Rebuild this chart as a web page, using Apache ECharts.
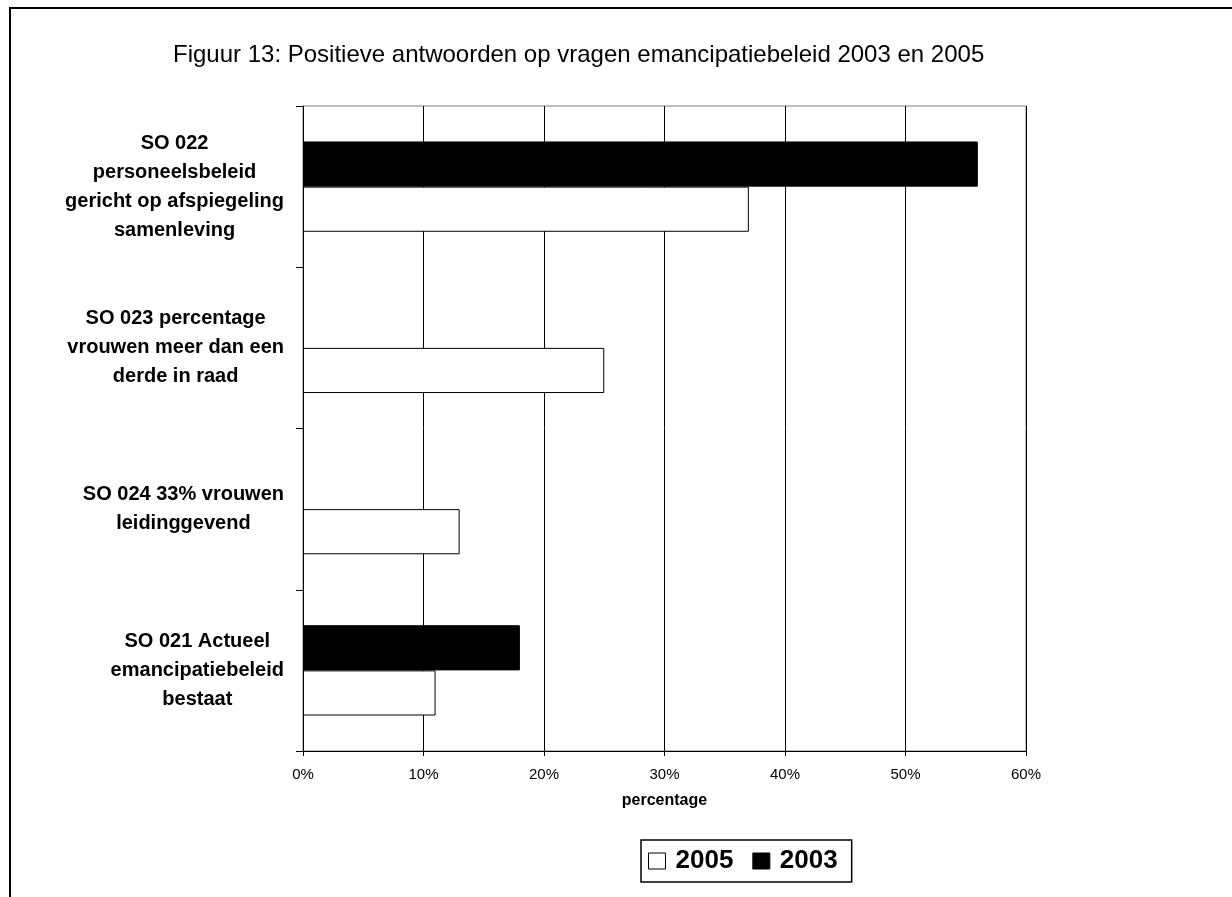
<!DOCTYPE html>
<html>
<head>
<meta charset="utf-8">
<script src="https://cdn.jsdelivr.net/npm/echarts@6/dist/echarts.min.js"></script>
<style>
html,body{margin:0;padding:0;background:#fff;}
#chart{width:1232px;height:897px;}
</style>
</head>
<body>
<div id="chart"></div>
<script>
const titleText = 'Figuur 13: Positieve antwoorden op vragen emancipatiebeleid 2003 en 2005';
const categories = [
  'SO 021 Actueel\nemancipatiebeleid\nbestaat',
  'SO 024 33% vrouwen\nleidinggevend',
  'SO 023 percentage\nvrouwen meer dan een\nderde in raad',
  'SO 022\npersoneelsbeleid\ngericht op afspiegeling\nsamenleving'
];
const values2005 = [11, 13, 25, 37];
const values2003 = [18, null, null, 56];
const seriesNames = ['2005', '2003'];
const xTicks = { min: 0, max: 60, interval: 10 };
const axisName = 'percentage';

const FONT = 'Liberation Sans, Arial, sans-serif';
const chart = echarts.init(document.getElementById('chart'), null, { renderer: 'canvas' });

chart.setOption({
  backgroundColor: '#fff',
  animation: false,
  title: {
    text: titleText,
    left: 168,
    top: 38,
    textStyle: { fontFamily: FONT, fontSize: 24, fontWeight: 'normal', color: '#000' }
  },
  graphic: [{
    type: 'rect',
    shape: { x: 10, y: 8, width: 1400, height: 1200 },
    style: { fill: null, stroke: '#000', lineWidth: 2 },
    silent: true,
    z: -1
  }],
  legend: {
    left: 641,
    top: 840,
    orient: 'horizontal',
    padding: [8, 14, 8, 7],
    itemGap: 19,
    itemWidth: 17,
    itemHeight: 16,
    borderColor: '#000',
    borderWidth: 1.5,
    backgroundColor: '#fff',
    data: [
      { name: seriesNames[0], icon: 'rect', itemStyle: { color: '#fff', borderColor: '#000', borderWidth: 1 } },
      { name: seriesNames[1], icon: 'rect', itemStyle: { color: '#000', borderColor: '#000', borderWidth: 1 } }
    ],
    textStyle: { fontFamily: FONT, fontSize: 26, fontWeight: 'bold', color: '#000', padding: [0, 0, 0, 5] }
  },
  grid: {
    left: 303, right: 206, top: 106, bottom: 146,
    show: true, borderColor: '#808080', borderWidth: 1, backgroundColor: '#fff'
  },
  xAxis: {
    type: 'value',
    min: xTicks.min, max: xTicks.max, interval: xTicks.interval,
    name: axisName,
    nameLocation: 'middle',
    nameGap: 42,
    nameTextStyle: { fontFamily: FONT, fontSize: 16, fontWeight: 'bold', color: '#000' },
    axisLine: { show: true, lineStyle: { color: '#000', width: 1 } },
    axisTick: { show: true, length: 5, lineStyle: { color: '#000' } },
    axisLabel: { formatter: '{value}%', fontFamily: FONT, fontSize: 15, color: '#000', margin: 16 },
    splitLine: { show: true, lineStyle: { color: '#000', width: 1 } }
  },
  yAxis: {
    type: 'category',
    data: categories,
    axisLine: { show: true, onZero: false, lineStyle: { color: '#000', width: 1 } },
    axisTick: { show: true, length: 7, alignWithLabel: false, lineStyle: { color: '#000' } },
    axisLabel: {
      margin: 19,
      align: 'right',
      formatter: function (v) { return v.split('\n').map(l => '{c|' + l + '}').join('\n'); },
      rich: { c: { align: 'center', fontFamily: FONT, fontSize: 20, fontWeight: 'bold', color: '#000', lineHeight: 29 } }
    },
    splitLine: { show: false }
  },
  series: [
    {
      name: seriesNames[1], type: 'bar', data: values2003,
      barGap: '0%', barCategoryGap: '44%',
      itemStyle: { color: '#000', borderColor: '#000', borderWidth: 1 }
    },
    {
      name: seriesNames[0], type: 'bar', data: values2005,
      barGap: '0%', barCategoryGap: '44%',
      itemStyle: { color: '#fff', borderColor: '#000', borderWidth: 1 }
    }
  ]
});
</script>
</body>
</html>
